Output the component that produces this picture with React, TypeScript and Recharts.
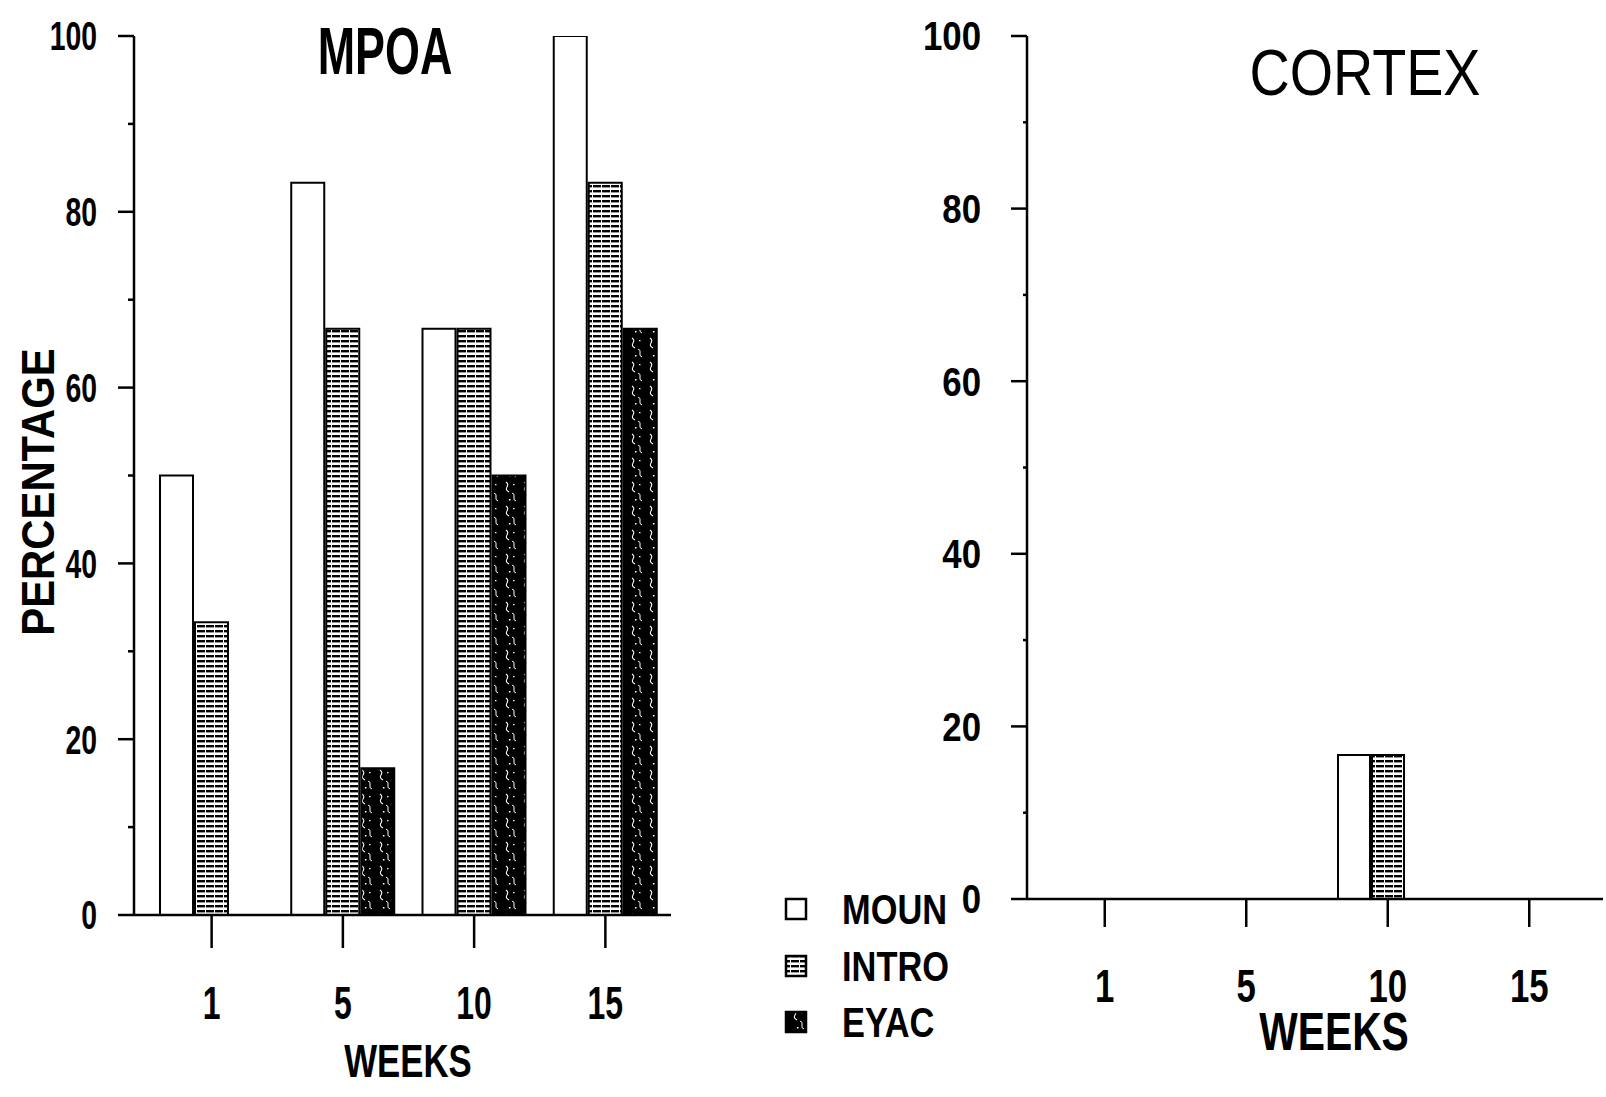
import React from 'react';
import { BarChart, Bar, XAxis, YAxis } from 'recharts';

const FONT = "'Liberation Sans', Arial, Helvetica, sans-serif";

// ---- data ----
const weeks = ['1', '5', '10', '15'];
const seriesNames = ['MOUN', 'INTRO', 'EYAC'];

const mpoaMoun = [50, 83.3, 66.7, 100];
const mpoaIntro = [33.3, 66.7, 66.7, 83.3];
const mpoaEyac = [0, 16.7, 50, 66.7];

const cortexMoun = [0, 0, 16.7, 0];
const cortexIntro = [0, 0, 16.7, 0];
const cortexEyac = [0, 0, 0, 0];

const yTicks = [0, 10, 20, 30, 40, 50, 60, 70, 80, 90, 100];
const yLabelTicks = [0, 20, 40, 60, 80, 100];

const panelTitles = ['MPOA', 'CORTEX'];
const xTitle = 'WEEKS';
const yTitle = 'PERCENTAGE';

function buildRows(m: number[], i: number[], e: number[]) {
  return weeks.map((w, k) => ({ week: w, MOUN: m[k], INTRO: i[k], EYAC: e[k] }));
}
const mpoaRows = buildRows(mpoaMoun, mpoaIntro, mpoaEyac);
const cortexRows = buildRows(cortexMoun, cortexIntro, cortexEyac);

// ---- helpers ----
type TxtProps = {
  x: number; y: number; children: any; size: number; sx?: number;
  weight?: string; anchor?: 'start' | 'middle' | 'end'; rotate?: number;
};
const Txt = ({ x, y, children, size, sx = 1, weight = 'bold', anchor = 'middle', rotate = 0 }: TxtProps) => (
  <text
    transform={`translate(${x},${y}) rotate(${rotate}) scale(${sx},1)`}
    fontSize={size}
    fontWeight={weight}
    textAnchor={anchor}
    fontFamily={FONT}
    fill="#000"
  >
    {children}
  </text>
);

const Patterns = ({ p }: { p: string }) => (
  <defs>
    <pattern id={`intro${p}`} patternUnits="userSpaceOnUse" width="9" height="5">
      <rect x="0" y="0" width="9" height="5" fill="#fff" />
      <rect x="0" y="0" width="7" height="2.4" fill="#000" />
      <rect x="8" y="0" width="1" height="2.4" fill="#000" />
    </pattern>
    <pattern id={`eyac${p}`} patternUnits="userSpaceOnUse" width="18" height="24">
      <rect x="0" y="0" width="18" height="24" fill="#000" />
      <path d="M2 2 q3 2 1 5 q-2 3 2 5" stroke="#fff" strokeWidth="1.1" fill="none" />
      <path d="M8 13 q3 1 2 4 q-1 3 2 4" stroke="#fff" strokeWidth="1" fill="none" />
      <rect x="5" y="19" width="1.5" height="1.5" fill="#fff" />
      <rect x="9" y="4" width="1.5" height="1.2" fill="#fff" />
    </pattern>
  </defs>
);

type PanelCfg = {
  yLabelRight: number; yLabelSize: number; yLabelSx: number;
  majorLen: number; minorLen: number;
  xTickLen: number; xLabelBase: number; xLabelSize: number; xLabelSx: number;
};

const makeYTick = (c: PanelCfg) => (props: any) => {
  const { x, y, payload } = props;
  const v = payload.value as number;
  const major = yLabelTicks.includes(v);
  const len = major ? c.majorLen : c.minorLen;
  return (
    <g>
      <line x1={x - len} y1={y} x2={x} y2={y} stroke="#000" strokeWidth={2.5} />
      {major && (
        <Txt x={x - c.yLabelRight} y={y + c.yLabelSize * 0.36} size={c.yLabelSize} sx={c.yLabelSx} anchor="end">
          {String(v)}
        </Txt>
      )}
    </g>
  );
};

const makeXTick = (c: PanelCfg) => (props: any) => {
  const { x, y, payload } = props;
  return (
    <g>
      <line x1={x} y1={y} x2={x} y2={y + c.xTickLen} stroke="#000" strokeWidth={2.5} />
      <Txt x={x} y={y + c.xLabelBase} size={c.xLabelSize} sx={c.xLabelSx}>
        {payload.value}
      </Txt>
    </g>
  );
};

const leftCfg: PanelCfg = {
  yLabelRight: 37, yLabelSize: 40, yLabelSx: 0.71,
  majorLen: 16, minorLen: 6,
  xTickLen: 33, xLabelBase: 104, xLabelSize: 47, xLabelSx: 0.68,
};
const rightCfg: PanelCfg = {
  yLabelRight: 46, yLabelSize: 40, yLabelSx: 0.87,
  majorLen: 16, minorLen: 4,
  xTickLen: 28, xLabelBase: 103, xLabelSize: 47, xLabelSx: 0.74,
};

const Panel = ({ rows, p, cfg, width, height, margin, yWidth, xHeight, pad, barSize }: any) => (
  <BarChart
    width={width}
    height={height}
    data={rows}
    margin={margin}
    barGap={2}
    barSize={barSize}
  >
    <Patterns p={p} />
    <XAxis
      dataKey="week"
      height={xHeight}
      padding={pad}
      interval={0}
      tickSize={0}
      tickMargin={0}
      tickLine={false}
      axisLine={{ stroke: '#000', strokeWidth: 2.5 }}
      tick={makeXTick(cfg)}
    />
    <YAxis
      width={yWidth}
      domain={[0, 100]}
      ticks={yTicks}
      interval={0}
      tickSize={0}
      tickMargin={0}
      tickLine={false}
      axisLine={{ stroke: '#000', strokeWidth: 2.5 }}
      tick={makeYTick(cfg)}
      allowDataOverflow
    />
    <Bar dataKey="MOUN" fill="#fff" stroke="#000" strokeWidth={2} isAnimationActive={false} />
    <Bar dataKey="INTRO" fill={`url(#intro${p})`} stroke="#000" strokeWidth={2} isAnimationActive={false} />
    <Bar dataKey="EYAC" fill={`url(#eyac${p})`} stroke="#000" strokeWidth={2} isAnimationActive={false} />
  </BarChart>
);

const legendY = [909, 966, 1022];

const Legend = () => (
  <svg width={1606} height={1097} style={{ position: 'absolute', left: 0, top: 0, pointerEvents: 'none' }}>
    <Patterns p="Lg" />
    {seriesNames.map((name, i) => {
      const fill = i === 0 ? '#fff' : i === 1 ? 'url(#introLg)' : 'url(#eyacLg)';
      return (
        <g key={name}>
          <rect x={786} y={legendY[i] - 10} width={20} height={20} fill={fill} stroke="#000" strokeWidth={2.5} />
          <Txt x={842} y={legendY[i] + 15} size={43} sx={0.8} anchor="start">{name}</Txt>
        </g>
      );
    })}
    {/* panel titles */}
    <Txt x={385} y={74} size={66} sx={0.68}>{panelTitles[0]}</Txt>
    <Txt x={1365} y={95} size={64} sx={0.87} weight="normal">{panelTitles[1]}</Txt>
    {/* axis titles */}
    <Txt x={408} y={1077} size={47} sx={0.74}>{xTitle}</Txt>
    <Txt x={1334} y={1050} size={53} sx={0.77}>{xTitle}</Txt>
    <Txt x={54} y={492} size={47} sx={0.89} rotate={-90}>{yTitle}</Txt>
  </svg>
);

export default function App() {
  return (
    <div style={{ position: 'absolute', left: 0, top: 0, width: 1606, height: 1097, background: '#fff', overflow: 'hidden' }}>
      <div style={{ position: 'absolute', left: 0, top: 0 }}>
        <Panel
          rows={mpoaRows}
          p="L"
          cfg={leftCfg}
          width={700}
          height={1097}
          margin={{ top: 36, right: 29, bottom: 0, left: 0 }}
          yWidth={134}
          xHeight={182}
          pad={{ left: 12, right: 0 }}
          barSize={33}
        />
      </div>
      <div style={{ position: 'absolute', left: 900, top: 0 }}>
        <Panel
          rows={cortexRows}
          p="R"
          cfg={rightCfg}
          width={706}
          height={1097}
          margin={{ top: 36, right: 3, bottom: 0, left: 0 }}
          yWidth={127}
          xHeight={198}
          pad={{ left: 7, right: 3 }}
          barSize={32}
        />
      </div>
      <Legend />
    </div>
  );
}
